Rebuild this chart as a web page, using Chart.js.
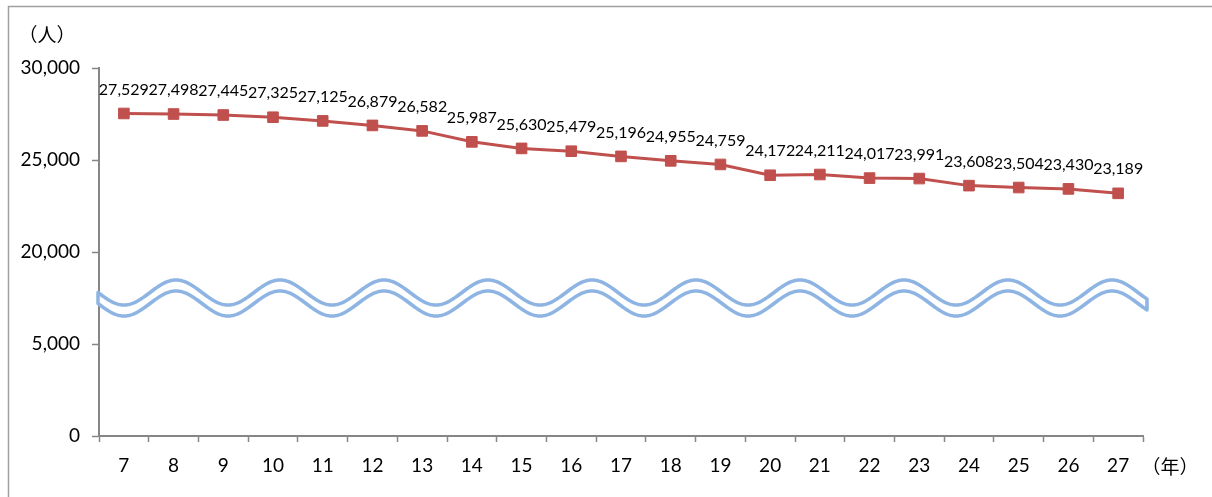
<!DOCTYPE html>
<html>
<head>
<meta charset="utf-8">
<script src="https://cdn.jsdelivr.net/npm/chart.js@4.4.1/dist/chart.umd.min.js"></script>
<style>
  html, body { margin: 0; padding: 0; background: #fff; }
  #grafico { display: block; }
</style>
</head>
<body>
<canvas id="grafico" width="1212" height="497"></canvas>
<script>
const anios = ['7', '8', '9', '10', '11', '12', '13', '14', '15', '16', '17', '18', '19', '20', '21', '22', '23', '24', '25', '26', '27'];
const personas = [27529, 27498, 27445, 27325, 27125, 26879, 26582, 25987, 25630, 25479, 25196, 24955, 24759, 24172, 24211, 24017, 23991, 23608, 23504, 23430, 23189];
const etiquetasY = ['0', '5,000', '20,000', '25,000', '30,000'];
// el eje se corta entre 5,000 y 20,000: lo que queda arriba se baja 10,000
const corte = 10000;

const grafico = document.getElementById('grafico');
const gris = '#868686';
const fuente = { family: 'Lato, "Liberation Sans", sans-serif', size: 19 };

const marco = {
  id: 'marco',
  beforeDraw(chart) {
    const ctx = chart.ctx;
    ctx.save();
    ctx.fillStyle = '#fff';
    ctx.fillRect(0, 0, chart.width, chart.height);
    ctx.strokeStyle = '#a0a0a0';
    ctx.lineWidth = 1.5;
    ctx.strokeRect(8.5, 6.5, chart.width + 20, chart.height + 20);
    ctx.restore();
  }
};

const etiquetas = {
  id: 'etiquetas',
  afterDatasetsDraw(chart) {
    const ctx = chart.ctx;
    const meta = chart.getDatasetMeta(0);
    ctx.save();
    ctx.fillStyle = '#000';
    ctx.font = '16px Lato, "Liberation Sans", sans-serif';
    ctx.textAlign = 'center';
    ctx.textBaseline = 'middle';
    meta.data.forEach((punto, i) => {
      ctx.fillText(personas[i].toLocaleString('en-US'), punto.x, punto.y - 24);
    });
    ctx.font = '19px "Noto Sans CJK JP", sans-serif';
    ctx.fillText('（人）', 47, 35);
    ctx.fillText('（年）', 1170, 467);
    ctx.restore();
  }
};

// ondas del corte del eje
const ondas = {
  id: 'ondas',
  afterDraw(chart) {
    const ctx = chart.ctx;
    const y = chart.scales.y;
    const area = chart.chartArea;
    const centro = (y.getPixelForValue(5000) + y.getPixelForValue(10000)) / 2;
    const x0 = area.left - 1;
    const x1 = area.right + 4;
    const periodo = 104;
    const amp = 12.5;
    const sep = 5.5;
    const curva = (x, d) => centro + d + amp * Math.sin(2 * Math.PI * (x - x0) / periodo);
    ctx.save();
    ctx.beginPath();
    for (let x = x0; x <= x1; x++) {
      if (x === x0) ctx.moveTo(x, curva(x, -sep));
      else ctx.lineTo(x, curva(x, -sep));
    }
    for (let x = x1; x >= x0; x--) {
      ctx.lineTo(x, curva(x, sep));
    }
    ctx.closePath();
    ctx.fillStyle = '#fff';
    ctx.fill();
    ctx.strokeStyle = '#8db4e2';
    ctx.lineWidth = 3.5;
    ctx.lineJoin = 'round';
    ctx.stroke();
    ctx.restore();
  }
};

new Chart(grafico, {
  type: 'line',
  data: {
    labels: anios,
    datasets: [{
      data: personas.map(v => v - corte),
      borderColor: '#c0504d',
      backgroundColor: '#c0504d',
      borderWidth: 3,
      pointStyle: 'rect',
      pointRadius: 7.5,
      pointBorderWidth: 1,
      pointBorderColor: '#c0504d',
      tension: 0
    }]
  },
  options: {
    responsive: false,
    animation: false,
    devicePixelRatio: 1,
    layout: { padding: { top: 68, right: 69, left: 0, bottom: 0 } },
    plugins: {
      legend: { display: false },
      tooltip: { enabled: false }
    },
    scales: {
      x: {
        offset: true,
        grid: { offset: true, drawOnChartArea: false, tickLength: 6, color: gris, tickWidth: 1.5 },
        border: { color: gris, width: 2 },
        ticks: { font: fuente, color: '#000', padding: 12, maxRotation: 0, autoSkip: false },
        afterFit: s => { s.height = 61; }
      },
      y: {
        min: 0,
        max: 20000,
        grid: { drawOnChartArea: false, tickLength: 7, color: gris, tickWidth: 1.5 },
        border: { color: gris, width: 2 },
        ticks: {
          stepSize: 5000,
          font: fuente,
          color: '#000',
          padding: 12,
          callback: (v, i) => etiquetasY[i]
        },
        afterFit: s => { s.width = 99; }
      }
    }
  },
  plugins: [marco, etiquetas, ondas]
});
</script>
</body>
</html>
